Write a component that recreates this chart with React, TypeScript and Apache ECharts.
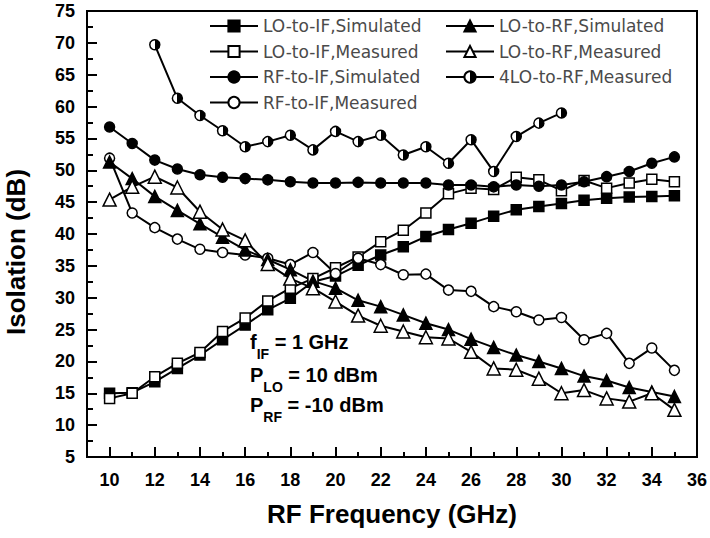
import React, { useEffect, useRef } from 'react';
import * as echarts from 'echarts';

const freqs = [10, 11, 12, 13, 14, 15, 16, 17, 18, 19, 20, 21, 22, 23, 24, 25, 26, 27, 28, 29, 30, 31, 32, 33, 34, 35];
const loIfSim = [15.0, 15.1, 16.8, 18.9, 21.0, 23.4, 25.7, 28.1, 29.9, 32.5, 33.4, 35.1, 36.7, 38.0, 39.6, 40.7, 41.7, 42.8, 43.8, 44.3, 44.8, 45.3, 45.6, 45.8, 45.9, 46.0];
const loIfMeas = [14.2, 15.0, 17.6, 19.7, 21.4, 24.7, 26.8, 29.5, 31.5, 33.0, 34.7, 36.4, 38.8, 40.6, 43.3, 46.3, 47.2, 47.0, 48.9, 48.5, 46.8, 48.4, 47.2, 48.0, 48.6, 48.2];
const rfIfSim = [56.8, 54.2, 51.6, 50.2, 49.3, 48.9, 48.7, 48.5, 48.2, 48.0, 48.0, 48.1, 48.0, 48.0, 48.0, 47.7, 47.7, 47.4, 47.7, 47.5, 47.7, 48.2, 49.0, 49.8, 51.1, 52.1];
const rfIfMeas = [51.9, 43.3, 41.0, 39.2, 37.6, 37.1, 36.7, 36.2, 35.2, 37.1, 33.8, 36.2, 35.2, 33.6, 33.7, 31.2, 31.0, 28.6, 27.8, 26.5, 26.9, 23.4, 24.4, 19.7, 22.1, 18.6];
const loRfSim = [51.3, 48.7, 45.9, 43.7, 41.6, 39.5, 37.5, 36.0, 34.4, 32.6, 31.5, 29.6, 28.6, 27.3, 26.0, 25.0, 23.5, 22.2, 21.0, 20.0, 18.9, 17.7, 17.0, 15.9, 15.2, 14.5];
const loRfMeas = [45.4, 47.4, 49.0, 47.3, 43.5, 40.7, 39.0, 35.3, 33.0, 31.5, 29.4, 27.2, 25.6, 24.7, 23.8, 23.6, 21.5, 18.9, 18.7, 17.3, 15.0, 15.5, 14.2, 13.7, 15.0, 12.4];
const freqs4lo = [12, 13, 14, 15, 16, 17, 18, 19, 20, 21, 22, 23, 24, 25, 26, 27, 28, 29, 30];
const lo4RfMeas = [69.7, 61.3, 58.6, 56.2, 53.7, 54.5, 55.5, 53.2, 56.1, 54.5, 55.5, 52.4, 53.7, 51.1, 54.8, 49.8, 55.3, 57.4, 59.0];

const xMajorTicks = [10, 12, 14, 16, 18, 20, 22, 24, 26, 28, 30, 32, 34, 36];
const xMinorTicks = [11, 13, 15, 17, 19, 21, 23, 25, 27, 29, 31, 33, 35];

const legendCol1 = ['LO-to-IF,Simulated', 'LO-to-IF,Measured', 'RF-to-IF,Simulated', 'RF-to-IF,Measured'];
const legendCol2 = ['LO-to-RF,Simulated', 'LO-to-RF,Measured', '4LO-to-RF,Measured'];

const halfFill = new echarts.graphic.LinearGradient(0, 0, 1, 0, [
  { offset: 0, color: '#ffffff' },
  { offset: 0.5, color: '#ffffff' },
  { offset: 0.5, color: '#000000' },
  { offset: 1, color: '#000000' },
]);

function mk(name: string, xs: number[], ys: number[], symbol: string, size: number, fill: any) {
  return {
    name,
    type: 'line',
    data: xs.map((x, i) => [x, ys[i]]),
    symbol,
    symbolSize: size,
    showSymbol: true,
    lineStyle: { color: '#000', width: 2 },
    itemStyle: { color: fill, borderColor: '#000', borderWidth: 1.5 },
    emphasis: { disabled: true },
  };
}

const FONT = "'Liberation Sans', Arial, sans-serif";

export default function App() {
  const ref = useRef<HTMLDivElement>(null);
  useEffect(() => {
    const chart = echarts.init(ref.current!, null, { renderer: 'svg' });
    const legendText = { fontFamily: "'DejaVu Sans', sans-serif", fontSize: 17, color: '#4a4a4a', lineHeight: 18 };
    const annRich = {
      m: { fontFamily: FONT, fontSize: 20, fontWeight: 'bold', lineHeight: 20, fill: '#000', color: '#000' },
      s: { fontFamily: FONT, fontSize: 14, fontWeight: 'bold', lineHeight: 14, padding: [24, 0, 0, 0], color: '#000', fill: '#000' },
    };
    const ann = (t: string, top: number) => ({
      type: 'text',
      left: 250,
      top,
      z: 100,
      style: { text: t, rich: annRich, fill: '#000', font: `bold 20px ${FONT}` },
    });
    chart.setOption({
      animation: false,
      backgroundColor: '#fff',
      grid: {
        left: 87, right: 13, top: 11, bottom: 81, show: true, borderColor: '#000', borderWidth: 2,
        containLabel: false, outerBoundsMode: 'none',
      },
      legend: [
        {
          orient: 'vertical', left: 204, top: 12, itemWidth: 48, itemHeight: 14, itemGap: 7.5,
          data: legendCol1, textStyle: legendText, selectedMode: false,
        },
        {
          orient: 'vertical', left: 440, top: 12, itemWidth: 48, itemHeight: 14, itemGap: 7.5,
          data: legendCol2, textStyle: legendText, selectedMode: false,
        },
      ],
      xAxis: [
        {
          type: 'value', min: 9, max: 36, position: 'bottom',
          axisLine: { show: true, onZero: false, lineStyle: { color: '#000', width: 2 } },
          axisTick: { show: true, inside: true, length: 10, customValues: xMajorTicks, lineStyle: { color: '#000', width: 2 } },
          axisLabel: { customValues: xMajorTicks, margin: 14, color: '#000', fontSize: 18, fontWeight: 'bold', fontFamily: FONT },
          splitLine: { show: false },
          name: 'RF Frequency (GHz)', nameLocation: 'middle', nameGap: 44,
          nameTextStyle: { fontSize: 26, fontWeight: 'bold', fontFamily: FONT, color: '#000' },
        },
        {
          type: 'value', min: 9, max: 36, position: 'bottom',
          axisLine: { show: false, onZero: false },
          axisTick: { show: true, inside: true, length: 5, customValues: xMinorTicks, lineStyle: { color: '#000', width: 2 } },
          axisLabel: { show: false },
          splitLine: { show: false },
        },
      ],
      yAxis: {
        type: 'value', min: 5, max: 75, interval: 5,
        axisLine: { show: true, onZero: false, lineStyle: { color: '#000', width: 2 } },
        axisTick: { show: true, inside: true, length: 10, lineStyle: { color: '#000', width: 2 } },
        minorTick: { show: true, splitNumber: 2, length: 6, lineStyle: { color: '#000', width: 2 } },
        axisLabel: { margin: 12, color: '#000', fontSize: 18, fontWeight: 'bold', fontFamily: FONT },
        splitLine: { show: false },
        minorSplitLine: { show: false },
        name: 'Isolation (dB)', nameLocation: 'middle', nameGap: 58,
        nameTextStyle: { fontSize: 26, fontWeight: 'bold', fontFamily: FONT, color: '#000', padding: [0, 36, 0, 0] },
      },
      series: [
        mk('LO-to-IF,Simulated', freqs, loIfSim, 'rect', 10, '#000'),
        mk('LO-to-IF,Measured', freqs, loIfMeas, 'rect', 10, '#fff'),
        mk('RF-to-IF,Simulated', freqs, rfIfSim, 'circle', 10, '#000'),
        mk('RF-to-IF,Measured', freqs, rfIfMeas, 'circle', 10, '#fff'),
        mk('LO-to-RF,Simulated', freqs, loRfSim, 'triangle', 12, '#000'),
        mk('LO-to-RF,Measured', freqs, loRfMeas, 'triangle', 13, '#fff'),
        mk('4LO-to-RF,Measured', freqs4lo, lo4RfMeas, 'circle', 10, halfFill),
      ],
      graphic: [
        ann('{m|f}{s|IF}{m| = 1 GHz}', 323),
        ann('{m|P}{s|LO}{m| = 10 dBm}', 356),
        ann('{m|P}{s|RF}{m| = -10 dBm}', 385.5),
      ],
    });
    return () => chart.dispose();
  }, []);
  return <div ref={ref} style={{ position: 'absolute', left: 0, top: 0, width: 710, height: 538 }} />;
}
